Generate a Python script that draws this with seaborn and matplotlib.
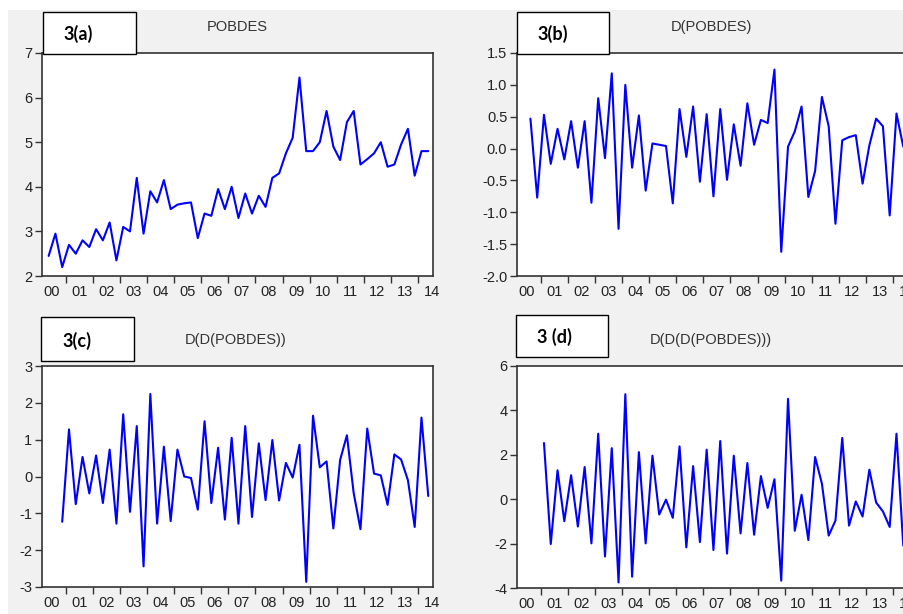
import numpy as np
import pandas as pd
import matplotlib.pyplot as plt
from matplotlib.patches import Rectangle
import seaborn as sns

# POBDES, quarterly 2000Q2 - 2014Q2 (panel 3(a))
pobdes = [2.45, 2.95, 2.2, 2.7, 2.5, 2.8, 2.65, 3.05, 2.8, 3.2,
          2.35, 3.1, 3.0, 4.2, 2.95, 3.9, 3.65, 4.15, 3.5, 3.6,
          3.63, 3.65, 2.85, 3.4, 3.35, 3.95, 3.5, 4.0, 3.3, 3.85,
          3.4, 3.8, 3.55, 4.2, 4.3, 4.75, 5.1, 6.45, 4.8, 4.8,
          5.0, 5.7, 4.9, 4.6, 5.45, 5.7, 4.5, 4.62, 4.75, 5.0,
          4.45, 4.5, 4.95, 5.3, 4.25, 4.8, 4.8]

# D(POBDES), 2000Q3 - 2014Q2 (panel 3(b))
d_pobdes = [0.47, -0.77, 0.53, -0.24, 0.31, -0.17, 0.43, -0.3, 0.43, -0.85,
            0.79, -0.15, 1.18, -1.26, 1.0, -0.3, 0.52, -0.66, 0.08, 0.06,
            0.04, -0.86, 0.62, -0.13, 0.66, -0.52, 0.54, -0.75, 0.62, -0.49,
            0.38, -0.27, 0.71, 0.06, 0.45, 0.4, 1.24, -1.62, 0.03, 0.27,
            0.66, -0.76, -0.35, 0.81, 0.35, -1.18, 0.13, 0.18, 0.21, -0.55,
            0.05, 0.47, 0.35, -1.05, 0.55, 0.03]

# D(D(POBDES)), 2000Q4 - 2014Q2 (panel 3(c))
dd_pobdes = [-1.23, 1.28, -0.75, 0.53, -0.46, 0.57, -0.72, 0.73, -1.28, 1.69,
             -0.96, 1.37, -2.44, 2.24, -1.28, 0.81, -1.21, 0.73, 0.0, -0.04,
             -0.9, 1.5, -0.72, 0.78, -1.17, 1.05, -1.28, 1.37, -1.1, 0.9,
             -0.64, 0.99, -0.65, 0.37, -0.03, 0.86, -2.86, 1.65, 0.25, 0.41,
             -1.41, 0.45, 1.12, -0.45, -1.43, 1.3, 0.08, 0.03, -0.77, 0.6,
             0.46, -0.1, -1.37, 1.6, -0.53]

# D(D(D(POBDES))), 2001Q1 - 2014Q2 (panel 3(d))
ddd_pobdes = [2.53, -2.02, 1.3, -0.99, 1.08, -1.23, 1.45, -1.99, 2.95, -2.58,
              2.3, -3.75, 4.73, -3.49, 2.12, -1.99, 1.96, -0.69, -0.02, -0.84,
              2.38, -2.17, 1.49, -1.93, 2.23, -2.29, 2.62, -2.45, 1.96, -1.54,
              1.63, -1.6, 1.04, -0.39, 0.9, -3.67, 4.52, -1.42, 0.2, -1.84,
              1.9, 0.7, -1.64, -0.96, 2.76, -1.19, -0.1, -0.78, 1.33, -0.15,
              -0.55, -1.25, 2.95, -2.09]

year_labels = ['00', '01', '02', '03', '04', '05', '06', '07',
               '08', '09', '10', '11', '12', '13', '14']

W, H = 904, 614


def fx(px):
    return px / W


def fy(py):
    return 1 - py / H


def quarter_axis(values, start):
    q = pd.period_range(start, periods=len(values), freq='Q')
    t = q.year + (q.quarter - 1) / 4 + 0.125
    return pd.DataFrame({'t': t, 'v': values})


sns.set_style("ticks")
plt.rcParams['font.family'] = ['Liberation Sans', 'DejaVu Sans']
plt.rcParams['axes.unicode_minus'] = False

fig = plt.figure(figsize=(W / 100, H / 100), dpi=100)
fig.patch.set_facecolor('white')
fig.add_artist(Rectangle((fx(8), 0), fx(W - 8), fy(10), transform=fig.transFigure,
                         facecolor='#f1f1f1', edgecolor='none', zorder=-5))

panels = [
    # series, start, left, top, bottom, ylim, yticks, fmt, title, label, box, title pos, label pos
    (pobdes, '2000Q2', 42, 53, 276, (2, 7), range(2, 8), '{:.0f}',
     'POBDES', '3(a)', (43, 12, 136, 54), (237, 27), (63, 34)),
    (d_pobdes, '2000Q3', 517, 53, 276, (-2, 1.5), np.arange(-2, 1.51, 0.5), '{:.1f}',
     'D(POBDES)', '3(b)', (517, 12, 609, 54), (711, 27), (537, 34)),
    (dd_pobdes, '2000Q4', 42, 366, 587, (-3, 3), range(-3, 4), '{:.0f}',
     'D(D(POBDES))', '3(c)', (41, 317, 134, 361), (236, 340), (62, 341)),
    (ddd_pobdes, '2001Q1', 517, 366, 588, (-4, 6), range(-4, 7, 2), '{:.0f}',
     'D(D(D(POBDES)))', '3 (d)', (516, 315, 608, 357), (711, 340), (537, 337)),
]

for (vals, start, left, top, bottom, ylim, yticks, fmt,
     title, label, box, tpos, lpos) in panels:
    ax = fig.add_axes([fx(left), fy(bottom), 391 / W, (bottom - top) / H])
    ax.set_facecolor('white')
    df = quarter_axis(vals, start)
    sns.lineplot(data=df, x='t', y='v', ax=ax, color='#0000ff', linewidth=1.5)
    ax.set_xlim(2000.13, 2014.55)
    ax.set_ylim(*ylim)
    ax.set_yticks(list(yticks))
    ax.set_yticklabels([fmt.format(v) for v in yticks])
    ax.set_xticks(range(2001, 2015))
    ax.set_xticklabels([])
    ax.set_xticks(np.arange(2000.5, 2015, 1.0), minor=True)
    ax.set_xticklabels(year_labels, minor=True)
    ax.tick_params(axis='both', which='major', direction='out', length=5,
                   width=1, color='#333333', labelsize=10.5, labelcolor='#222222')
    ax.tick_params(axis='y', pad=2)
    ax.tick_params(axis='x', which='minor', length=0, pad=6.5,
                   labelsize=10.5, labelcolor='#222222')
    ax.set_xlabel('')
    ax.set_ylabel('')
    for sp in ax.spines.values():
        sp.set_visible(True)
        sp.set_color('#333333')
        sp.set_linewidth(1.2)

    fig.text(fx(tpos[0]), fy(tpos[1]), title, ha='center', va='center',
             fontsize=10.5, color='#333333')
    x0, y0, x1, y1 = box
    fig.add_artist(Rectangle((fx(x0), fy(y1)), (x1 - x0) / W, (y1 - y0) / H,
                             transform=fig.transFigure, facecolor='white',
                             edgecolor='black', linewidth=1, zorder=5))
    fig.text(fx(lpos[0]), fy(lpos[1]), label, ha='left', va='center',
             fontsize=13, fontweight='bold', family=['Lato', 'DejaVu Sans'],
             color='black', zorder=6)

fig.savefig('out.png', dpi=100)
